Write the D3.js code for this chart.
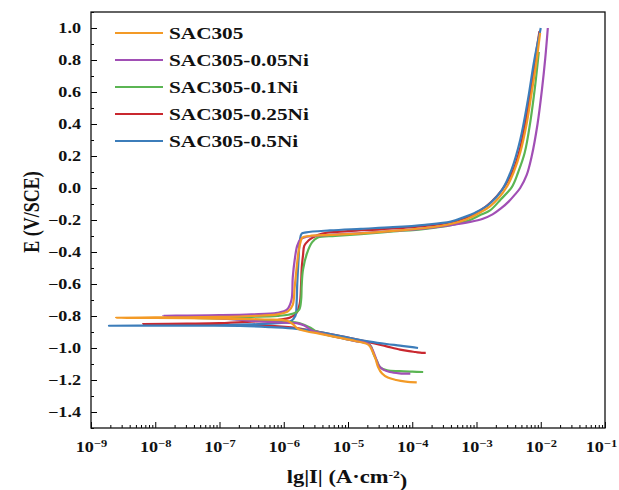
<!DOCTYPE html>
<html>
<head>
<meta charset="utf-8">
<script src="https://cdn.jsdelivr.net/npm/d3@7"></script>
<style>
  body { margin: 0; background: #fff; }
  text { font-family: "Liberation Serif", "Times New Roman", serif; font-weight: bold; fill: #111; }
</style>
</head>
<body>
<svg id="chart" width="619" height="490"></svg>
<script>
// series names + colours (legend order)
const seriesNames = ["SAC305", "SAC305-0.05Ni", "SAC305-0.1Ni", "SAC305-0.25Ni", "SAC305-0.5Ni"];
const seriesColors = ["#f39a26", "#a14fb5", "#5bb553", "#c9282f", "#3c7dba"];

// each point is [lg|I|, E]; cathodic tail -> E_corr tip -> anodic branch
const sac305 = [
  [-3.93, -1.215], [-4.10, -1.21], [-4.25, -1.20], [-4.38, -1.185], [-4.47, -1.16], [-4.53, -1.12],
  [-4.57, -1.07], [-4.62, -1.02], [-4.68, -0.98], [-4.9, -0.955], [-5.2, -0.93], [-5.45, -0.91],
  [-5.65, -0.895], [-5.78, -0.88], [-5.86, -0.85], [-5.95, -0.83], [-6.3, -0.822], [-7.0, -0.816],
  [-8.0, -0.812], [-8.61, -0.811],
  [-8.0, -0.809], [-7.0, -0.806], [-6.5, -0.80], [-6.1, -0.79], [-5.93, -0.77], [-5.86, -0.73],
  [-5.83, -0.62], [-5.80, -0.50], [-5.77, -0.40], [-5.74, -0.34], [-5.71, -0.31], [-5.6, -0.30],
  [-5.28, -0.293], [-4.8, -0.283], [-4.3, -0.268], [-3.8, -0.25], [-3.4, -0.225], [-3.15, -0.195],
  [-2.95, -0.155], [-2.79, -0.115], [-2.65, -0.06], [-2.53, 0.006], [-2.42, 0.10], [-2.32, 0.22],
  [-2.22, 0.40], [-2.14, 0.60], [-2.07, 0.78], [-2.01, 0.97]
];
const sac305_005Ni = [
  [-4.03, -1.16], [-4.2, -1.158], [-4.35, -1.15], [-4.45, -1.135], [-4.52, -1.11], [-4.57, -1.06],
  [-4.62, -1.01], [-4.68, -0.975], [-4.9, -0.955], [-5.2, -0.93], [-5.45, -0.905], [-5.56, -0.89],
  [-5.68, -0.86], [-5.80, -0.845], [-6.0, -0.842], [-6.5, -0.83], [-7.0, -0.815], [-7.5, -0.805],
  [-7.88, -0.798],
  [-7.5, -0.797], [-7.0, -0.795], [-6.5, -0.79], [-6.1, -0.78], [-5.95, -0.76], [-5.88, -0.70],
  [-5.86, -0.56], [-5.83, -0.45], [-5.79, -0.36], [-5.74, -0.32], [-5.65, -0.305], [-5.28, -0.293],
  [-4.8, -0.282], [-4.3, -0.268], [-3.8, -0.252], [-3.4, -0.232], [-3.1, -0.212], [-2.9, -0.192],
  [-2.75, -0.165], [-2.62, -0.128], [-2.5, -0.085], [-2.4, -0.04], [-2.32, 0.0], [-2.22, 0.08],
  [-2.14, 0.2], [-2.05, 0.40], [-1.98, 0.62], [-1.93, 0.81], [-1.89, 1.0]
];
const sac305_01Ni = [
  [-3.83, -1.15], [-4.0, -1.148], [-4.2, -1.145], [-4.39, -1.14], [-4.50, -1.12], [-4.55, -1.08],
  [-4.6, -1.04], [-4.66, -0.98], [-4.9, -0.955], [-5.2, -0.93], [-5.4, -0.91], [-5.5, -0.895],
  [-5.6, -0.87], [-5.75, -0.845], [-6.0, -0.835], [-6.5, -0.825], [-7.0, -0.815], [-7.6, -0.81],
  [-7.0, -0.808], [-6.5, -0.805], [-6.1, -0.80], [-5.85, -0.785], [-5.76, -0.76], [-5.73, -0.70],
  [-5.72, -0.60], [-5.70, -0.51], [-5.64, -0.41], [-5.56, -0.34], [-5.47, -0.31], [-5.2, -0.30],
  [-4.8, -0.288], [-4.3, -0.272], [-3.8, -0.255], [-3.4, -0.232], [-3.1, -0.20], [-2.95, -0.17],
  [-2.79, -0.14], [-2.62, -0.07], [-2.45, 0.006], [-2.35, 0.10], [-2.25, 0.22], [-2.16, 0.42],
  [-2.09, 0.63], [-2.03, 0.85]
];
const sac305_025Ni = [
  [-3.79, -1.03], [-3.85, -1.03], [-3.95, -1.025], [-4.05, -1.02], [-4.19, -1.01], [-4.4, -0.99],
  [-4.66, -0.965], [-5.0, -0.935], [-5.44, -0.90], [-5.8, -0.875], [-6.2, -0.862], [-7.0, -0.855],
  [-7.5, -0.852], [-8.19, -0.85],
  [-7.5, -0.848], [-7.0, -0.845], [-6.5, -0.835], [-6.1, -0.825], [-5.9, -0.81], [-5.8, -0.78],
  [-5.75, -0.72], [-5.73, -0.60], [-5.72, -0.50], [-5.70, -0.42], [-5.68, -0.36], [-5.62, -0.33],
  [-5.55, -0.31], [-5.4, -0.285], [-5.0, -0.27], [-4.5, -0.258], [-4.0, -0.245], [-3.6, -0.228],
  [-3.3, -0.205], [-3.05, -0.165], [-2.85, -0.115], [-2.68, -0.05], [-2.55, 0.02], [-2.42, 0.12],
  [-2.32, 0.25], [-2.22, 0.45], [-2.14, 0.65], [-2.07, 0.85], [-2.02, 0.98]
];
const sac305_05Ni = [
  [-3.91, -1.0], [-4.0, -0.995], [-4.19, -0.985], [-4.4, -0.975], [-4.66, -0.96], [-5.0, -0.935],
  [-5.44, -0.90], [-5.8, -0.88], [-6.2, -0.87], [-6.68, -0.862], [-7.5, -0.861], [-8.72, -0.861],
  [-8.0, -0.86], [-7.0, -0.858], [-6.5, -0.852], [-6.1, -0.845], [-5.9, -0.835], [-5.82, -0.80],
  [-5.80, -0.72], [-5.79, -0.60], [-5.77, -0.45], [-5.75, -0.33], [-5.72, -0.285], [-5.65, -0.277],
  [-5.28, -0.265], [-4.8, -0.255], [-4.3, -0.245], [-3.8, -0.23], [-3.4, -0.21], [-3.21, -0.185],
  [-3.0, -0.15], [-2.8, -0.10], [-2.6, -0.01], [-2.45, 0.12], [-2.32, 0.30], [-2.2, 0.55],
  [-2.1, 0.8], [-2.0, 1.0]
];
const allSeries = [sac305, sac305_005Ni, sac305_01Ni, sac305_025Ni, sac305_05Ni];
// drawing order, last on top
const drawOrder = [3, 4, 2, 1, 0];

// tick values
const yTicks = [-1.4, -1.2, -1.0, -0.8, -0.6, -0.4, -0.2, 0.0, 0.2, 0.4, 0.6, 0.8, 1.0];
const xDecades = [-9, -8, -7, -6, -5, -4, -3, -2, -1];

const svg = d3.select("#chart");
const plot = { left: 91, right: 605, top: 12, bottom: 428 };
// the source picture is stretched sideways, so text is widened a bit
const SX = 1.25;

const x = d3.scaleLog().domain([1e-9, 1e-1]).range([plot.left, plot.right]);
const y = d3.scaleLinear().domain([-1.5, 1.1]).range([plot.bottom, plot.top]);

const line = d3.line()
  .x((d) => x(Math.pow(10, d[0])))
  .y((d) => y(d[1]))
  .curve(d3.curveCatmullRom.alpha(0.5));

svg.append("g")
  .selectAll("path")
  .data(drawOrder)
  .join("path")
  .attr("d", (i) => line(allSeries[i]))
  .attr("fill", "none")
  .attr("stroke", (i) => seriesColors[i])
  .attr("stroke-width", 2.2)
  .attr("stroke-linejoin", "round");

// minor ticks
const yMinor = d3.range(-1.5, 1.1001, 0.1).map((v) => +v.toFixed(2));
const xMinor = [];
xDecades.slice(0, -1).forEach((p) => {
  for (let k = 2; k <= 9; k++) xMinor.push(k * Math.pow(10, p));
});

svg.append("g")
  .attr("transform", `translate(${plot.left},0)`)
  .call(d3.axisRight(y).tickValues(yMinor).tickSize(3).tickFormat(""))
  .call((g) => g.select(".domain").remove());

svg.append("g")
  .attr("transform", `translate(0,${plot.bottom})`)
  .call(d3.axisTop(x).tickValues(xMinor).tickSize(3).tickFormat(""))
  .call((g) => g.select(".domain").remove());

// major ticks, inward
const yAxis = svg.append("g")
  .attr("transform", `translate(${plot.left},0)`)
  .call(d3.axisLeft(y).tickValues(yTicks).tickSize(-6).tickPadding(8)
    .tickFormat((d) => d3.format(".1f")(d).replace("-", "\u2212")));
yAxis.select(".domain").remove();
yAxis.selectAll("text")
  .style("font-size", "14.5px")
  .attr("fill", "#111")
  .attr("transform", `scale(${SX},1)`);

const xAxis = svg.append("g")
  .attr("transform", `translate(0,${plot.bottom})`)
  .call(d3.axisBottom(x).tickValues(xDecades.map((p) => Math.pow(10, p))).tickSize(-6).tickPadding(10)
    .tickFormat(""));
xAxis.select(".domain").remove();
xAxis.selectAll(".tick text").each(function (d, i) {
  // last label sits at the picture edge, nudge it in
  const shift = i === xDecades.length - 1 ? -4 : 0;
  const t = d3.select(this)
    .style("font-size", "14.5px")
    .attr("fill", "#111")
    .attr("dy", "0.95em")
    .attr("transform", `translate(${shift},0) scale(${SX},1)`);
  t.append("tspan").text("10");
  t.append("tspan").attr("dy", "-0.45em").style("font-size", "10px")
    .text("\u2212" + Math.abs(xDecades[i]));
});

// frame
svg.append("rect")
  .attr("x", plot.left).attr("y", plot.top)
  .attr("width", plot.right - plot.left).attr("height", plot.bottom - plot.top)
  .attr("fill", "none").attr("stroke", "#111").attr("stroke-width", 1.3);

// axis titles
const xt = svg.append("text")
  .attr("transform", `translate(${(plot.left + plot.right) / 2 - 1},483) scale(${SX},1)`)
  .attr("text-anchor", "middle").style("font-size", "18px");
xt.append("tspan").text("lg|I| (A\u00b7cm");
xt.append("tspan").attr("dy", "-0.5em").style("font-size", "11px").text("-2");
xt.append("tspan").attr("dy", "0.5em").text(")");

svg.append("text")
  .attr("transform", `translate(39,212) scale(${SX},1) rotate(-90)`)
  .attr("text-anchor", "middle")
  .style("font-size", "18px")
  .text("E (V/SCE)");

// legend
const legend = svg.append("g");
seriesNames.forEach((name, i) => {
  const ly = 33 + i * 27;
  legend.append("line")
    .attr("x1", 115).attr("x2", 163).attr("y1", ly).attr("y2", ly)
    .attr("stroke", seriesColors[i]).attr("stroke-width", 2.2);
  legend.append("text")
    .attr("transform", `translate(169,${ly}) scale(${SX},1)`)
    .attr("dy", "0.35em")
    .style("font-size", "17px")
    .text(name);
});
</script>
</body>
</html>
